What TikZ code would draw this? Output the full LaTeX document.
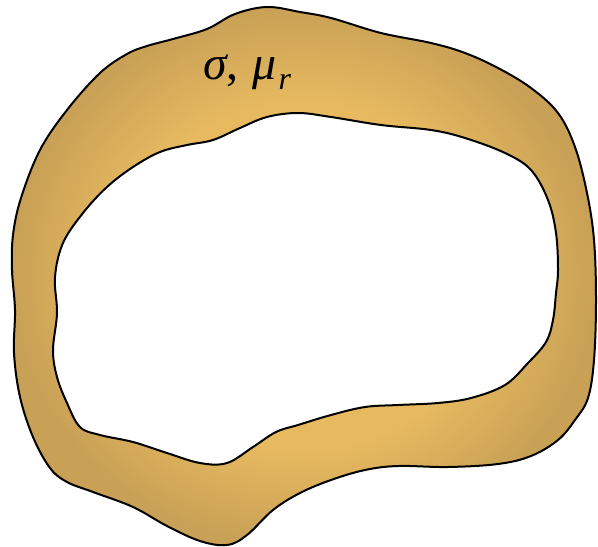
\documentclass[tikz,border=0pt]{standalone}
\usepackage{fontspec}
\setmainfont{Liberation Serif}
\definecolor{ringlight}{RGB}{231,186,96}
\definecolor{ringdark}{RGB}{201,161,86}
\pgfdeclareradialshading{ring}{\pgfpoint{0bp}{0bp}}{color(0bp)=(ringlight); color(16bp)=(ringlight); color(25bp)=(ringdark); color(50bp)=(ringdark)}
\tikzset{
  band/.style={draw=black, line width=2bp, shading=ring, even odd rule, line join=round},
  label/.style={anchor=base west, inner sep=0pt, font=\fontsize{48}{50}\selectfont}
}
\begin{document}
\begin{tikzpicture}[x=1bp,y=-1bp]
\useasboundingbox (0,0) rectangle (598,547);
\path[band, shade]
  plot[smooth cycle, tension=0.6] coordinates {
    (267,7) (300,12) (331,18) (381,33) (431,43) (465,53) (498,68) (531,88) (558,113)
    (575,147) (587,193) (594,240) (596,300) (594,360) (588,398) (575,420) (558,440)
    (531,456) (498,464) (448,467) (398,466) (365,470) (331,480) (300,493) (273,510)
    (247,535) (227,545) (200,541) (167,526) (133,507) (93,492) (67,482) (50,468)
    (33,437) (20,397) (14,353) (15,310) (12,270) (13,235) (21,198) (40,150) (67,110)
    (100,73) (127,54) (147,46) (173,39) (207,29) (235,14)}
  plot[smooth cycle, tension=0.6] coordinates {
    (240,128) (267,117) (298,113) (331,117) (381,125) (431,130) (465,138) (505,153)
    (531,170) (548,200) (556,233) (558,270) (556,293) (553,320) (546,342) (528,363)
    (505,385) (471,398) (438,403) (398,405) (365,407) (331,415) (298,425) (276,432)
    (253,447) (227,463) (200,463) (167,453) (133,442) (100,435) (80,427) (67,403)
    (57,377) (53,350) (57,313) (55,277) (63,243) (83,213) (107,187) (133,167)
    (160,152) (187,145) (213,140)};
\node[label] (mat) at (203,80) {\itshape σ\upshape,\hspace{0.28em}\itshape μ\hspace{0.05em}\raisebox{-0.2em}{\fontsize{32}{34}\selectfont r}};
\end{tikzpicture}
\end{document}
